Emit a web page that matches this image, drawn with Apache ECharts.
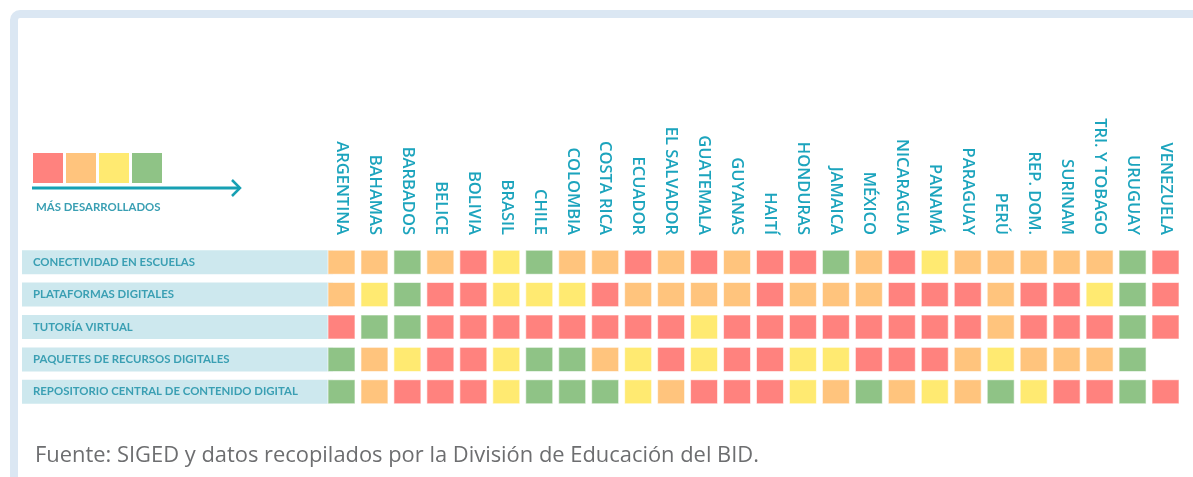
<!DOCTYPE html>
<html>
<head>
<meta charset="utf-8">
<script src="https://cdn.jsdelivr.net/npm/echarts@6/dist/echarts.min.js"></script>
<style>
  html, body { margin: 0; padding: 0; background: #ffffff; }
  #chart { width: 1193px; height: 477px; }
</style>
</head>
<body>
<div id="chart"></div>
<script>
  // países (columnas)
  const paises = ['ARGENTINA', 'BAHAMAS', 'BARBADOS', 'BELICE', 'BOLIVIA', 'BRASIL', 'CHILE', 'COLOMBIA',
    'COSTA RICA', 'ECUADOR', 'EL SALVADOR', 'GUATEMALA', 'GUYANAS', 'HAITÍ', 'HONDURAS', 'JAMAICA',
    'MÉXICO', 'NICARAGUA', 'PANAMÁ', 'PARAGUAY', 'PERÚ', 'REP. DOM.', 'SURINAM', 'TRI. Y TOBAGO',
    'URUGUAY', 'VENEZUELA']
  // indicadores (filas)
  const indicadores = ['CONECTIVIDAD EN ESCUELAS', 'PLATAFORMAS DIGITALES', 'TUTORÍA VIRTUAL',
    'PAQUETES DE RECURSOS DIGITALES', 'REPOSITORIO CENTRAL DE CONTENIDO DIGITAL']
  // nivel: 1 = menos desarrollado (rojo) ... 4 = más desarrollado (verde)
  const conectividad = [2, 2, 4, 2, 1, 3, 4, 2, 2, 1, 2, 1, 2, 1, 1, 4, 2, 1, 3, 2, 2, 2, 2, 2, 4, 1]
  const plataformas = [2, 3, 4, 1, 1, 3, 3, 3, 1, 2, 2, 2, 2, 1, 2, 2, 2, 1, 1, 1, 2, 1, 1, 3, 4, 1]
  const tutoria = [1, 4, 4, 1, 1, 1, 1, 1, 1, 1, 1, 3, 1, 1, 1, 1, 1, 1, 1, 1, 2, 1, 1, 1, 4, 1]
  const paquetes = [4, 2, 3, 1, 1, 3, 4, 4, 2, 3, 1, 3, 1, 1, 3, 3, 1, 1, 1, 2, 3, 2, 2, 2, 4, null]
  const repositorio = [4, 2, 1, 1, 1, 3, 4, 4, 4, 3, 2, 1, 1, 1, 3, 2, 4, 2, 3, 2, 4, 3, 1, 1, 4, 1]
  const niveles = [1, 2, 3, 4]

  const COLORS = ['#ff827e', '#ffc47d', '#ffea71', '#8fc386']
  const TEAL = '#1ca4bd'
  const TEAL_DARK = '#3a9fb3'

  let filas = [conectividad, plataformas, tutoria, paquetes, repositorio]
  let data = []
  filas.forEach(function (fila, y) {
    fila.forEach(function (v, x) {
      if (v !== null) data.push([x, y, v])
    })
  })

  let myChart = echarts.init(document.getElementById('chart'))
  let option = {
    animation: false,
    grid: {
      left: 325,
      right: 11,
      top: 246,
      bottom: 69
    },
    xAxis: {
      type: 'category',
      position: 'top',
      data: paises,
      axisLine: { show: false },
      axisTick: { show: false },
      splitLine: { show: false },
      axisLabel: {
        rotate: 90,
        interval: 0,
        margin: 11,
        color: TEAL,
        fontSize: 16.5,
        fontWeight: 600,
        fontFamily: 'Open Sans'
      }
    },
    yAxis: {
      type: 'category',
      inverse: true,
      data: indicadores,
      axisLine: { show: false },
      axisTick: { show: false },
      splitLine: { show: false },
      axisLabel: {
        align: 'left',
        margin: 303,
        width: 300,
        height: 24,
        lineHeight: 24,
        padding: [0, 0, 0, 11],
        backgroundColor: '#cde8ee',
        color: TEAL_DARK,
        fontSize: 11.4,
        fontWeight: 'bold',
        fontFamily: 'Lato'
      }
    },
    // leyenda de colores (cuadros arriba a la izquierda)
    visualMap: {
      type: 'piecewise',
      dimension: 2,
      orient: 'horizontal',
      left: 33,
      top: 153,
      padding: 0,
      itemWidth: 30,
      itemHeight: 30,
      itemGap: 3,
      itemSymbol: 'rect',
      showLabel: false,
      selectedMode: false,
      pieces: niveles.map(function (n, i) {
        return { value: n, color: COLORS[i] }
      })
    },
    graphic: [
      // marco
      {
        type: 'rect',
        shape: { x: 14, y: 14, width: 1200, height: 520, r: 6 },
        style: { fill: 'none', stroke: '#dbe7f3', lineWidth: 8 },
        silent: true
      },
      // flecha
      {
        type: 'polyline',
        shape: { points: [[32, 188], [240, 188]] },
        style: { stroke: '#17a0b3', lineWidth: 3 }
      },
      {
        type: 'polyline',
        shape: { points: [[232, 180], [240, 188], [232, 196]] },
        style: { stroke: '#17a0b3', lineWidth: 2.5, fill: 'none' }
      },
      {
        type: 'text',
        left: 36,
        top: 202,
        style: {
          text: 'MÁS DESARROLLADOS',
          fill: TEAL_DARK,
          font: 'bold 11.4px Lato'
        }
      },
      // fuente
      {
        type: 'text',
        left: 35,
        top: 445,
        style: {
          text: 'Fuente: SIGED y datos recopilados por la División de Educación del BID.',
          fill: '#6d6e70',
          font: '21.9px "Open Sans"'
        }
      }
    ],
    series: [{
      type: 'scatter',
      symbol: 'rect',
      symbolSize: [27, 24],
      itemStyle: {
        opacity: 1,
        borderColor: 'rgba(255,255,255,0.6)',
        borderWidth: 1
      },
      data: data
    }]
  }
  myChart.setOption(option)
</script>
</body>
</html>
